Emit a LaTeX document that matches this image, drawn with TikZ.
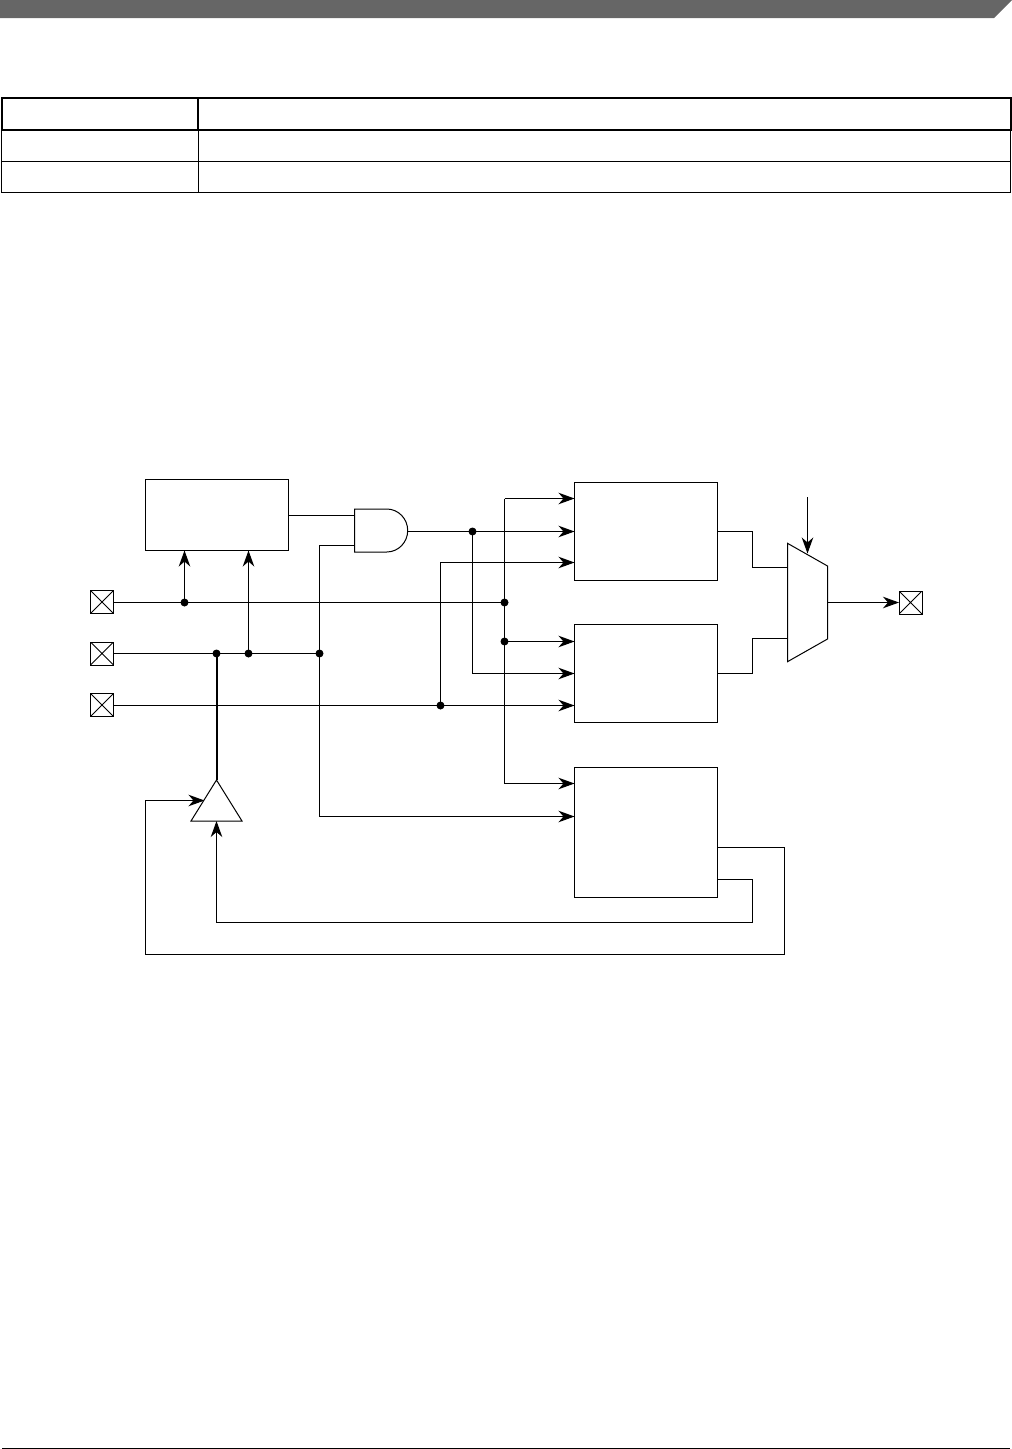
\documentclass[tikz,border=0pt]{standalone}
\usetikzlibrary{arrows.meta,calc}
\tikzset{
  wire/.style={line width=1pt,line join=miter},
  arrowwire/.style={wire,-{Stealth[length=16pt,width=11.5pt,inset=5pt]}},
  blockbox/.style={draw,line width=1pt,inner sep=0pt,outer sep=0pt,fill=white},
  gateshape/.style={draw,line width=1pt,fill=white,line join=miter},
  dot/.style={circle,fill=black,inner sep=0pt,outer sep=0pt,minimum size=8pt},
  pad/.style={draw,line width=1pt,inner sep=0pt,outer sep=0pt,minimum width=23pt,minimum height=23pt,
    path picture={\draw[line width=0.8pt] (path picture bounding box.north west)--(path picture bounding box.south east)
      (path picture bounding box.north east)--(path picture bounding box.south west);}},
  tablethin/.style={line width=1pt},
  tablethick/.style={line width=2pt},
}
\begin{document}
\begin{tikzpicture}[x=1pt,y=-1pt]
\useasboundingbox (0,0) rectangle (1012,1449);
% page furniture
\fill[black!60] (0,0) -- (1012,0) -- (994,18) -- (0,18) -- cycle;
\draw[line width=1pt] (2,1448.5) -- (1010,1448.5);
% table
\draw[tablethin] (1.5,130) -- (1.5,192.5) -- (1010.5,192.5) -- (1010.5,130) (1,161.5) -- (1011,161.5) (198.5,130) -- (198.5,192.5);
\draw[tablethick] (2,130) rectangle (1010.5,98) (198,98) -- (198,130);
% blocks
\node[blockbox,minimum width=143pt,minimum height=71pt] (ctl) at (217,515) {};
\node[blockbox,minimum width=143pt,minimum height=98pt] (b1) at (646,531.5) {};
\node[blockbox,minimum width=143pt,minimum height=98pt] (b2) at (646,673.5) {};
\node[blockbox,minimum width=143pt,minimum height=130pt] (b3) at (646,832.5) {};
% pads
\node[pad] (p1) at (102,602) {};
\node[pad] (p2) at (102,653.5) {};
\node[pad] (p3) at (102,705) {};
\node[pad] (p4) at (910.5,602.5) {};
% junction dots
\node[dot] (d1) at (184.5,602.5) {};
\node[dot] (d2) at (504.5,602.5) {};
\node[dot] (d3) at (216.5,653.5) {};
\node[dot] (d4) at (248.5,653.5) {};
\node[dot] (d5) at (319.5,653.5) {};
\node[dot] (d6) at (504.5,641.5) {};
\node[dot] (d7) at (472.5,531.5) {};
\node[dot] (d8) at (440.5,705.5) {};
% gate terminals
\coordinate (gateA) at (354.7,515.5);
\coordinate (gateB) at (354.7,545.5);
\coordinate (gateOut) at (407.7,531.5);
\coordinate (triTop) at (216.5,780);
\coordinate (triLeft) at (204.5,800.5);
\coordinate (triBase) at (216.5,821);
\coordinate (muxA) at (787.5,567.5);
\coordinate (muxB) at (787.5,638.5);
\coordinate (muxOut) at (827.5,602.5);
\coordinate (muxSel) at (807.5,553.5);
\coordinate (selFree) at (807.5,497);
\coordinate (busTop) at (504.5,498.5);
\coordinate (busBot) at (504.5,783.5);
% wires
\draw[wire] (ctl.east |- gateA) -- (gateA);
\draw[wire] (d5.center) |- (gateB);
\draw[wire] (gateOut) -- (d7.center);
\draw[wire] (p1.east |- d1) -- (d2.center);
\draw[wire] (p2.east |- d5) -- (d5.center);
\draw[wire] (busTop) -- (busBot);
\draw[line width=2pt] (d3.center) -- (triTop);
\draw[arrowwire] (d1.center) -- (d1.center |- ctl.south);
\draw[arrowwire] (d4.center) -- (d4.center |- ctl.south);
\draw[arrowwire] (d7.center) -- (b1.west |- d7);
\draw[arrowwire] (busTop) -- (b1.west |- busTop);
\draw[arrowwire] (d8.center) |- (b1.west |- 0,562.5);
\draw[arrowwire] (d6.center) -- (b2.west |- d6);
\draw[arrowwire] (d7.center) |- (b2.west |- 0,673.5);
\draw[arrowwire] (p3.east |- d8) -- (b2.west |- d8);
\draw[arrowwire] (busBot) -- (b3.west |- busBot);
\draw[arrowwire] (d5.center) |- (b3.west |- 0,816.5);
\draw[wire] (b1.east |- 0,531.5) -| (752.5,567.5) -- (muxA);
\draw[wire] (b2.east |- 0,673.5) -| (752.5,638.5) -- (muxB);
\draw[arrowwire] (muxOut) -- (p4.west);
\draw[arrowwire] (selFree) -- (muxSel);
\draw[arrowwire] (b3.east |- 0,879.5) -| (752.5,922.5) -| (triBase);
\draw[arrowwire] (b3.east |- 0,847.5) -| (784.5,954.5) -| (145.5,800.5) -- (triLeft);
% gates
\draw[gateshape] (354.7,509) -- (386.7,509) arc[start angle=-90,end angle=90,x radius=21pt,y radius=-21.5pt] -- (354.7,552) -- cycle;
\draw[gateshape] (triTop) -- (242,821) -- (191,821) -- cycle;
\draw[gateshape] (787.5,543.3) -- (827.5,566) -- (827.5,639) -- (787.5,661.7) -- cycle;
\end{tikzpicture}
\end{document}
